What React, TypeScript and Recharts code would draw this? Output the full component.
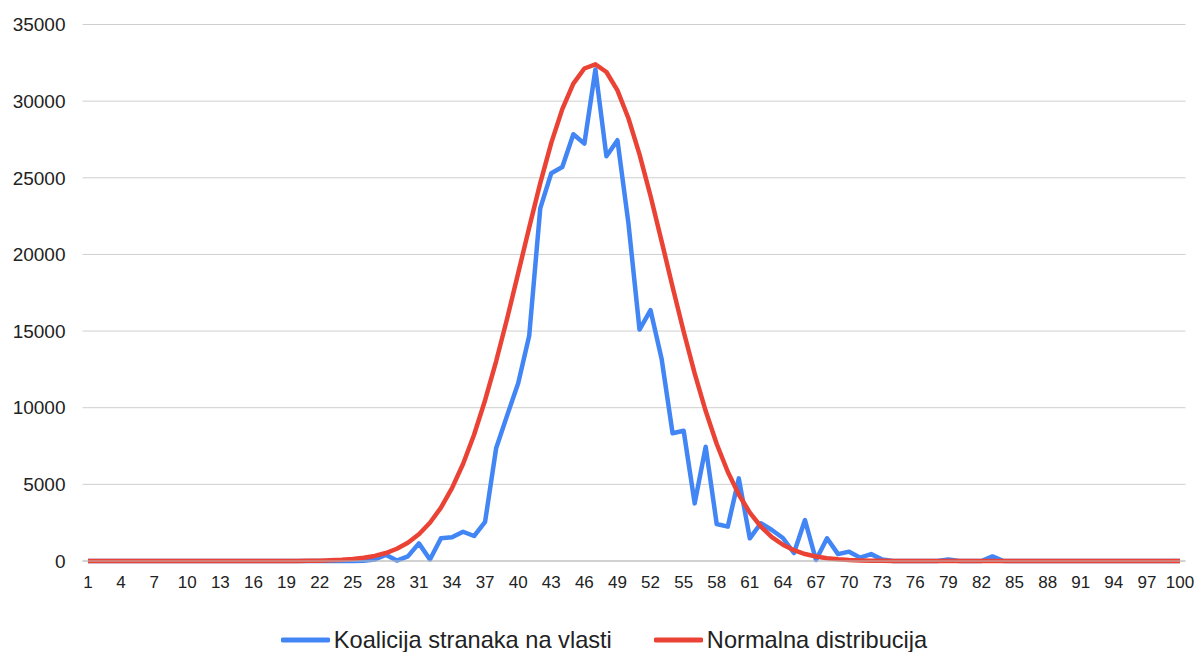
import { LineChart, Line, XAxis, YAxis, CartesianGrid, Legend } from 'recharts'

const categories = [
  1, 2, 3, 4, 5, 6, 7, 8, 9, 10,
  11, 12, 13, 14, 15, 16, 17, 18, 19, 20,
  21, 22, 23, 24, 25, 26, 27, 28, 29, 30,
  31, 32, 33, 34, 35, 36, 37, 38, 39, 40,
  41, 42, 43, 44, 45, 46, 47, 48, 49, 50,
  51, 52, 53, 54, 55, 56, 57, 58, 59, 60,
  61, 62, 63, 64, 65, 66, 67, 68, 69, 70,
  71, 72, 73, 74, 75, 76, 77, 78, 79, 80,
  81, 82, 83, 84, 85, 86, 87, 88, 89, 90,
  91, 92, 93, 94, 95, 96, 97, 98, 99, 100,
]

// Koalicija stranaka na vlasti
const coalition = [
  0, 0, 0, 0, 0, 0, 0, 0, 0, 0,
  0, 0, 0, 0, 0, 0, 0, 0, 0, 0,
  0, 0, 0, 0, 0, 20, 100, 400, 30, 300,
  1150, 100, 1480, 1545, 1910, 1630, 2560, 7350, 9500, 11600,
  14700, 23000, 25300, 25700, 27840, 27230, 32060, 26400, 27450, 22000,
  15100, 16360, 13200, 8330, 8500, 3760, 7450, 2410, 2240, 5390,
  1480, 2460, 2020, 1500, 520, 2670, 65, 1480, 450, 610,
  220, 450, 100, 0, 0, 0, 0, 0, 100, 0,
  0, 0, 300, 0, 0, 0, 0, 0, 0, 0,
  0, 0, 0, 0, 0, 0, 0, 0, 0, 0,
]

// Normalna distribucija
const normal = [
  0, 0, 0, 0, 0, 0, 0, 0, 0, 0,
  0, 0, 0, 0, 0, 0, 0, 0, 3, 7,
  13, 24, 43, 75, 125, 207, 331, 520, 800, 1195,
  1745, 2495, 3480, 4750, 6330, 8240, 10490, 13030, 15820, 18780,
  21760, 24650, 27280, 29480, 31140, 32130, 32400, 31900, 30700, 28870,
  26530, 23810, 20870, 17880, 14970, 12240, 9780, 7630, 5820, 4340,
  3160, 2250, 1560, 1060, 705, 455, 290, 180, 108, 64,
  37, 21, 12, 6, 3, 0, 0, 0, 0, 0,
  0, 0, 0, 0, 0, 0, 0, 0, 0, 0,
  0, 0, 0, 0, 0, 0, 0, 0, 0, 0,
]

const yTicks = [0, 5000, 10000, 15000, 20000, 25000, 30000, 35000]

const seriesNames = ['Koalicija stranaka na vlasti', 'Normalna distribucija']
const seriesColors = ['#4285F4', '#EA4335']

const data = categories.map((c, i) => ({
  name: String(c),
  coalition: coalition[i],
  normal: normal[i],
}))

const FONT = '"Liberation Sans", Arial, sans-serif'

const renderLegend = () => (
  <div
    style={{
      display: 'flex',
      justifyContent: 'center',
      alignItems: 'center',
      fontFamily: FONT,
      fontSize: 23.6,
      color: '#222',
      gap: 42,
      height: 36,
      paddingLeft: 11,
    }}
  >
    {seriesNames.map((n, i) => (
      <div key={n} style={{ display: 'flex', alignItems: 'center' }}>
        <svg width={49} height={8} style={{ marginRight: 4 }}>
          <line x1={2} y1={4} x2={47} y2={4} stroke={seriesColors[i]} strokeWidth={5} strokeLinecap="round" />
        </svg>
        <span>{n}</span>
      </div>
    ))}
  </div>
)

export default function App() {
  return (
    <div style={{ position: 'absolute', left: 0, top: 0, width: 1197, height: 652, background: '#fff', overflow: 'hidden' }}>
      <LineChart
        width={1197}
        height={652}
        data={data}
        margin={{ top: 24.5, right: 11.5, left: 12.5, bottom: 61 }}
      >
        <CartesianGrid vertical={false} stroke="#cfcfcf" strokeWidth={1} />
        <XAxis
          dataKey="name"
          interval={2}
          height={30}
          padding={{ left: 5.5, right: 5.5 }}
          tickLine={false}
          tickSize={0}
          tickMargin={15}
          axisLine={{ stroke: '#bdbdbd' }}
          tick={{ fill: '#222', fontSize: 17, fontFamily: FONT }}
        />
        <YAxis
          domain={[0, 35000]}
          ticks={yTicks}
          width={70}
          tickLine={false}
          tickSize={0}
          tickMargin={17}
          axisLine={false}
          tick={{ fill: '#222', fontSize: 19, fontFamily: FONT }}
        />
        <Legend
          verticalAlign="middle"
          align="center"
          layout="horizontal"
          content={renderLegend}
          wrapperStyle={{ left: 0, top: 622, width: 1197 }}
        />
        <Line
          type="linear"
          dataKey="coalition"
          name={seriesNames[0]}
          stroke={seriesColors[0]}
          strokeWidth={4.5}
          strokeLinejoin="round"
          dot={false}
          activeDot={false}
          isAnimationActive={false}
        />
        <Line
          type="linear"
          dataKey="normal"
          name={seriesNames[1]}
          stroke={seriesColors[1]}
          strokeWidth={4.5}
          strokeLinejoin="round"
          dot={false}
          activeDot={false}
          isAnimationActive={false}
        />
      </LineChart>
    </div>
  )
}
